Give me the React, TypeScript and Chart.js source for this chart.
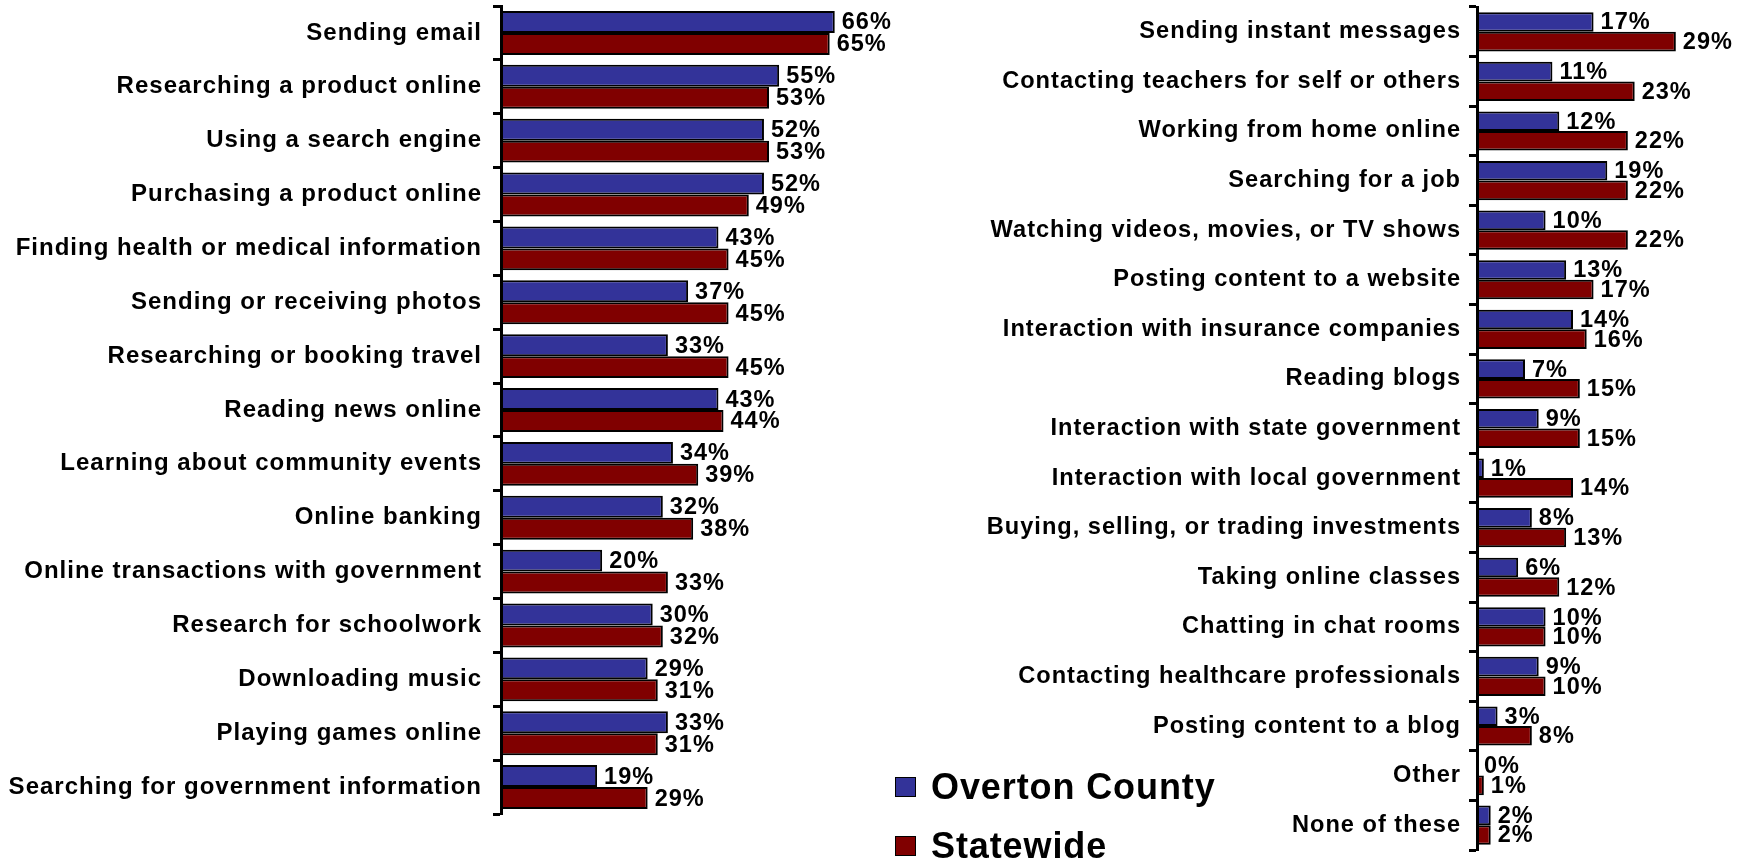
import React, { useEffect, useRef } from 'react';
import { Chart, registerables } from 'chart.js';

Chart.register(...registerables);

const leftCategories = [
  'Sending email',
  'Researching a product online',
  'Using a search engine',
  'Purchasing a product online',
  'Finding health or medical information',
  'Sending or receiving photos',
  'Researching or booking travel',
  'Reading news online',
  'Learning about community events',
  'Online banking',
  'Online transactions with government',
  'Research for schoolwork',
  'Downloading music',
  'Playing games online',
  'Searching for government information',
];
const leftOverton = [66, 55, 52, 52, 43, 37, 33, 43, 34, 32, 20, 30, 29, 33, 19];
const leftStatewide = [65, 53, 53, 49, 45, 45, 45, 44, 39, 38, 33, 32, 31, 31, 29];

const rightCategories = [
  'Sending instant messages',
  'Contacting teachers for self or others',
  'Working from home online',
  'Searching for a job',
  'Watching videos, movies, or TV shows',
  'Posting content to a website',
  'Interaction with insurance companies',
  'Reading blogs',
  'Interaction with state government',
  'Interaction with local government',
  'Buying, selling, or trading investments',
  'Taking online classes',
  'Chatting in chat rooms',
  'Contacting healthcare professionals',
  'Posting content to a blog',
  'Other',
  'None of these',
];
const rightOverton = [17, 11, 12, 19, 10, 13, 14, 7, 9, 1, 8, 6, 10, 9, 3, 0, 2];
const rightStatewide = [29, 23, 22, 22, 22, 17, 16, 15, 15, 14, 13, 12, 10, 10, 8, 1, 2];

const seriesNames = ['Overton County', 'Statewide'];
const seriesColors = ['#333399', '#800000'];

const FONT = "'Liberation Sans', Arial, Helvetica, sans-serif";

const spacingPlugin = {
  id: 'spacing',
  beforeLayout(chart: any) {
    chart.ctx.letterSpacing = '1px';
  },
  beforeDraw(chart: any) {
    chart.ctx.letterSpacing = '1px';
  },
};

const valueLabelPlugin = {
  id: 'valueLabels',
  afterDatasetsDraw(chart: any) {
    const ctx = chart.ctx;
    ctx.save();
    ctx.letterSpacing = '1px';
    ctx.font = `bold 23.5px ${FONT}`;
    ctx.fillStyle = '#000';
    ctx.textAlign = 'left';
    ctx.textBaseline = 'middle';
    chart.data.datasets.forEach((ds: any, di: number) => {
      const meta = chart.getDatasetMeta(di);
      meta.data.forEach((el: any, i: number) => {
        ctx.fillText(`${ds.data[i]}%`, el.x + 7, el.y + 1);
      });
    });
    ctx.restore();
  },
};

type Props = {
  categories: string[];
  a: number[];
  b: number[];
  max: number;
  yWidth: number;
  padding: { top: number; bottom: number; right: number };
  catPct: number;
  labelSize: number;
  labelPad: number;
};

function BarPanel(p: Props) {
  const ref = useRef<HTMLCanvasElement | null>(null);
  useEffect(() => {
    if (!ref.current) return;
    const chart = new Chart(ref.current, {
      type: 'bar',
      data: {
        labels: p.categories,
        datasets: [
          {
            label: seriesNames[0],
            data: p.a,
            backgroundColor: seriesColors[0],
            borderColor: '#000',
            borderWidth: 2,
            borderSkipped: false,
            categoryPercentage: p.catPct,
            barPercentage: 1,
          },
          {
            label: seriesNames[1],
            data: p.b,
            backgroundColor: seriesColors[1],
            borderColor: '#000',
            borderWidth: 2,
            borderSkipped: false,
            categoryPercentage: p.catPct,
            barPercentage: 1,
          },
        ],
      },
      options: {
        indexAxis: 'y',
        animation: false,
        responsive: true,
        maintainAspectRatio: false,
        layout: { padding: { left: 0, top: p.padding.top, bottom: p.padding.bottom, right: p.padding.right } },
        plugins: { legend: { display: false }, tooltip: { enabled: false } },
        scales: {
          x: { display: false, min: 0, max: p.max },
          y: {
            afterFit: (scale: any) => {
              scale.width = p.yWidth;
              scale.paddingTop = 0;
              scale.paddingBottom = 0;
            },
            grid: {
              drawOnChartArea: false,
              drawTicks: true,
              tickLength: 8,
              tickWidth: 3,
              tickColor: '#000',
              color: '#000',
              offset: true,
            },
            border: { display: true, color: '#000', width: 3 },
            ticks: {
              color: '#000',
              padding: p.labelPad,
              font: { family: FONT, size: p.labelSize, weight: 'bold' },
              autoSkip: false,
            },
          },
        },
      },
      plugins: [spacingPlugin, valueLabelPlugin],
    } as any);
    return () => chart.destroy();
  }, []);
  return <canvas ref={ref} />;
}

function LegendItem({ color, name, top }: { color: string; name: string; top: number }) {
  return (
    <div style={{ position: 'absolute', left: 895, top, height: 40, display: 'flex', alignItems: 'center' }}>
      <div
        style={{
          width: 19,
          height: 18,
          background: color,
          border: '1.5px solid #000',
          marginRight: 15,
        }}
      />
      <span
        style={{
          fontFamily: FONT,
          fontWeight: 'bold',
          fontSize: 36,
          lineHeight: '40px',
          letterSpacing: '0.9px',
          color: '#000',
          whiteSpace: 'nowrap',
        }}
      >
        {name}
      </span>
    </div>
  );
}

export default function App() {
  return (
    <div style={{ position: 'fixed', left: 0, top: 0, width: 1746, height: 859, background: '#fff', overflow: 'hidden' }}>
      <div style={{ position: 'absolute', left: 0, top: 0, width: 900, height: 859 }}>
        <BarPanel
          categories={leftCategories}
          a={leftOverton}
          b={leftStatewide}
          max={70}
          yWidth={501}
          padding={{ top: 6, bottom: 45, right: 45 }}
          catPct={0.815}
          labelSize={24}
          labelPad={11}
        />
      </div>
      <div style={{ position: 'absolute', left: 900, top: 0, width: 846, height: 859 }}>
        <BarPanel
          categories={rightCategories}
          a={rightOverton}
          b={rightStatewide}
          max={35}
          yWidth={577}
          padding={{ top: 7, bottom: 9, right: 29 }}
          catPct={0.79}
          labelSize={23.6}
          labelPad={8}
        />
      </div>
      <LegendItem color={seriesColors[0]} name={seriesNames[0]} top={767} />
      <LegendItem color={seriesColors[1]} name={seriesNames[1]} top={826} />
    </div>
  );
}
